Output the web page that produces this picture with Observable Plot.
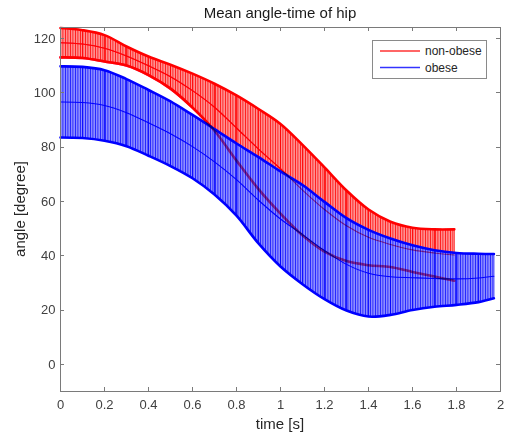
<!DOCTYPE html>
<html><head><meta charset="utf-8">
<script src="https://cdn.jsdelivr.net/npm/d3@7"></script>
<script src="https://cdn.jsdelivr.net/npm/@observablehq/plot@0.6"></script>
<style>body{margin:0;background:#fff}svg{display:block}</style>
</head><body><div id="chart"></div>
<script>
const title = "Mean angle-time of hip";
const xLabel = "time [s]";
const yLabel = "angle [degree]";
const xTicks = [0, 0.2, 0.4, 0.6, 0.8, 1, 1.2, 1.4, 1.6, 1.8, 2];
const yTicks = [0, 20, 40, 60, 80, 100, 120];
const seriesNames = ["non-obese", "obese"];
const seriesColors = ["#ff0000", "#0000ff"];

// non-obese: time, mean angle, error (half-width of error bar)
const timeNonObese = [0, 0.1, 0.2, 0.3, 0.4, 0.5, 0.6, 0.7, 0.8, 0.9, 1.0, 1.1, 1.2, 1.3, 1.4, 1.5, 1.6, 1.7, 1.79];
const meanNonObese = [118.4, 117.9, 116.35, 113.5, 109.9, 105.9, 100.75, 94.65, 87.0, 79.25, 72.0, 64.15, 57.0, 51.0, 46.75, 44.15, 42.15, 41.0, 40.25];
const errNonObese  = [5.4, 5.1, 4.85, 3.5, 3.4, 4.4, 6.25, 8.65, 12.0, 14.75, 16.5, 16.65, 15.5, 13.0, 10.25, 8.35, 8.15, 8.7, 9.45];

// obese
const timeObese = [0, 0.1, 0.2, 0.3, 0.4, 0.5, 0.6, 0.7, 0.8, 0.9, 1.0, 1.1, 1.2, 1.3, 1.4, 1.5, 1.6, 1.7, 1.8, 1.9, 1.97];
const meanObese = [96.6, 96.4, 95.3, 92.65, 88.9, 84.9, 80.15, 74.55, 68.0, 60.4, 53.5, 47.75, 41.9, 36.8, 33.55, 32.25, 31.9, 31.6, 31.45, 31.8, 32.45];
const errObese  = [13.1, 13.1, 13.0, 12.35, 12.1, 11.9, 11.65, 12.05, 13.3, 15.9, 17.5, 18.25, 17.9, 17.0, 15.95, 14.05, 11.9, 10.4, 9.55, 8.9, 8.15];

const build = (ts, ms, es) => ts.map((t, i) => ({t, mean: ms[i], lo: ms[i] - es[i], hi: ms[i] + es[i]}));
const nonObese = build(timeNonObese, meanNonObese, errNonObese);
const obese = build(timeObese, meanObese, errObese);

const axisColor = "#7a7a7a";
const textColor = "#404040";
const curve = "catmull-rom";
const fmt = d => String(+(+d).toFixed(1));

function band(data, color, pattern) {
  return [
    Plot.areaY(data, {x: "t", y1: "lo", y2: "hi", fill: `url(#${pattern})`, curve}),
    Plot.ruleX(data, {x: "t", y1: "lo", y2: "hi", stroke: color, strokeWidth: 0.8}),
    Plot.line(data, {x: "t", y: "hi", stroke: color, strokeWidth: 2.6, curve}),
    Plot.line(data, {x: "t", y: "lo", stroke: color, strokeWidth: 2.6, curve}),
    Plot.line(data, {x: "t", y: "mean", stroke: color, strokeWidth: 1.1, curve})
  ];
}

const svg = Plot.plot({
  width: 509, height: 436,
  marginLeft: 60, marginRight: 9, marginTop: 27, marginBottom: 45,
  style: {fontFamily: "'Liberation Sans', Arial, sans-serif", fontSize: "13px", color: textColor, background: "white"},
  x: {domain: [0, 2]},
  y: {domain: [-10, 124]},
  marks: [
    ...band(nonObese, seriesColors[0], "stripesRed"),
    ...band(obese, seriesColors[1], "stripesBlue"),
    // red lower caps and mean seen through the blue bars
    Plot.line(nonObese, {x: "t", y: "lo", stroke: "#ff3c8c", strokeWidth: 2.6, curve, mixBlendMode: "multiply"}),
    Plot.line(nonObese, {x: "t", y: "mean", stroke: "#ff3c8c", strokeWidth: 1.1, curve, mixBlendMode: "multiply"}),
    Plot.frame({stroke: axisColor}),
    Plot.axisX(xTicks, {anchor: "bottom", tickSize: 0, tickPadding: 8, tickFormat: fmt, fill: textColor, label: null}),
    Plot.axisY(yTicks, {anchor: "left", tickSize: 0, tickPadding: 5, fill: textColor, label: null})
  ]
});

const root = d3.select(svg);
const defs = root.insert("defs", ":first-child");
function stripes(id, light, dark) {
  const p = defs.append("pattern").attr("id", id).attr("patternUnits", "userSpaceOnUse")
    .attr("width", 2.5).attr("height", 10);
  p.append("rect").attr("width", 2.5).attr("height", 10).attr("fill", light);
  p.append("rect").attr("width", 0.8).attr("height", 10).attr("fill", dark);
}
stripes("stripesRed", "#ff9090", "#ff1010");
stripes("stripesBlue", "#8c8cff", "#1818ff");

const xs = svg.scale("x"), ys = svg.scale("y");
const [x0, x1] = [xs.apply(0), xs.apply(2)];
const [yb, yt] = [ys.apply(-10), ys.apply(124)];

// inward ticks on all four sides (MATLAB box style)
const tg = root.append("g").attr("stroke", axisColor).attr("stroke-width", 1);
xTicks.forEach(v => {
  const x = Math.round(xs.apply(v)) + 0.5;
  tg.append("line").attr("x1", x).attr("x2", x).attr("y1", yb).attr("y2", yb - 4);
  tg.append("line").attr("x1", x).attr("x2", x).attr("y1", yt).attr("y2", yt + 4);
});
yTicks.forEach(v => {
  const y = Math.round(ys.apply(v)) + 0.5;
  tg.append("line").attr("x1", x0).attr("x2", x0 + 4).attr("y1", y).attr("y2", y);
  tg.append("line").attr("x1", x1).attr("x2", x1 - 4).attr("y1", y).attr("y2", y);
});

const cx = (x0 + x1) / 2;
const cy = (yb + yt) / 2;
const ff = "'Liberation Sans', Arial, sans-serif";
root.append("text").attr("x", cx).attr("y", 18).attr("text-anchor", "middle")
  .attr("font-family", ff).attr("font-size", 15).attr("fill", "#1a1a1a").text(title);
root.append("text").attr("x", cx).attr("y", 429).attr("text-anchor", "middle")
  .attr("font-family", ff).attr("font-size", 15).attr("fill", "#262626").text(xLabel);
root.append("text").attr("transform", `translate(25,${cy}) rotate(-90)`).attr("text-anchor", "middle")
  .attr("font-family", ff).attr("font-size", 15).attr("fill", "#262626").text(yLabel);

// legend
const lg = root.append("g");
lg.append("rect").attr("x", 372.5).attr("y", 40.5).attr("width", 114).attr("height", 38)
  .attr("fill", "white").attr("stroke", "#8a8a8a");
seriesNames.forEach((name, i) => {
  const y = 51 + i * 16.5;
  lg.append("line").attr("x1", 380).attr("x2", 420).attr("y1", y).attr("y2", y)
    .attr("stroke", seriesColors[i]).attr("stroke-width", 1.3).attr("stroke-opacity", 0.8);
  lg.append("text").attr("x", 425).attr("y", y + 4.3).attr("text-anchor", "start")
    .attr("font-family", ff).attr("font-size", 12).attr("fill", "#262626").text(name);
});

document.getElementById("chart").appendChild(svg);
</script>
</body></html>
